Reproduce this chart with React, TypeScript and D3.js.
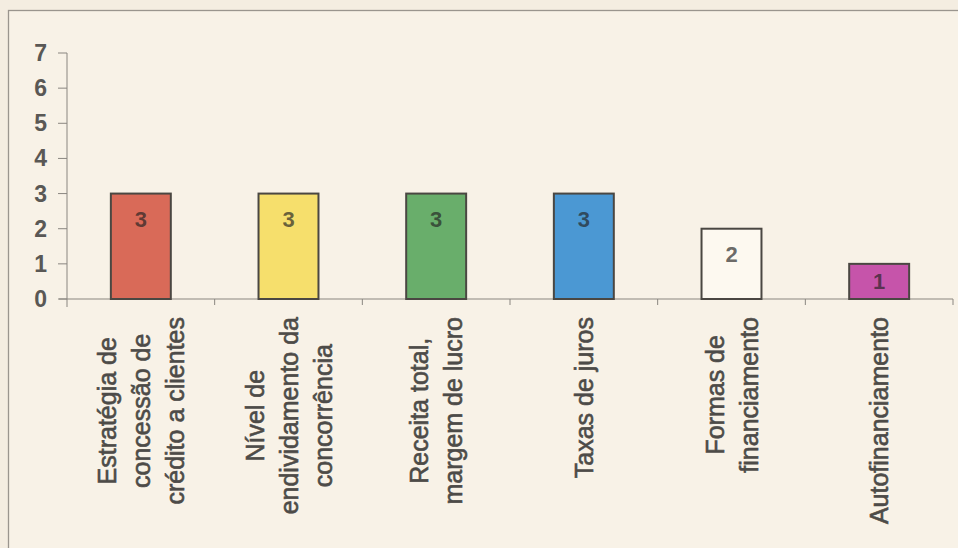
import React from "react";
import * as d3 from "d3";

const categories: string[] = [
  "Estratégia de concessão de crédito a clientes",
  "Nível de endividamento da concorrência",
  "Receita total, margem de lucro",
  "Taxas de juros",
  "Formas de financiamento",
  "Autofinanciamento",
];
const categoryLines: string[][] = [
  ["Estratégia de", "concessão de", "crédito a clientes"],
  ["Nível de", "endividamento da", "concorrência"],
  ["Receita total,", "margem de lucro"],
  ["Taxas de juros"],
  ["Formas de", "financiamento"],
  ["Autofinanciamento"],
];
const values: number[] = [3, 3, 3, 3, 2, 1];
const barColors: string[] = ["#d96a58", "#f6df6c", "#69ae6b", "#4b98d3", "#fdf9f0", "#c654aa"];
const yTicks: number[] = [0, 1, 2, 3, 4, 5, 6, 7];

const W = 958;
const H = 548;
const FONT = "'Liberation Sans', Arial, sans-serif";

function measure(text: string, size: number): number {
  const c = document.createElement("canvas");
  const ctx = c.getContext("2d");
  if (!ctx) return text.length * size * 0.5;
  ctx.font = `${size}px 'Liberation Sans', Arial, sans-serif`;
  return ctx.measureText(text).width;
}

export default function App() {
  const left = 67;
  const right = 953;
  const axisY = 299;
  const topY = 53;

  const x = d3
    .scaleBand<string>()
    .domain(categories)
    .range([left, right])
    .paddingInner(0.594)
    .paddingOuter(0.297);
  const y = d3.scaleLinear().domain([0, 7]).range([axisY, topY]);
  const step = x.step();
  const labelSize = 25;
  const lineGap = 34;

  return (
    <svg
      width={W}
      height={H}
      style={{ position: "absolute", left: 0, top: 0, display: "block" }}
      fontFamily={FONT}
    >
      <rect x={0} y={0} width={W} height={H} fill="#f4ede1" />
      <rect x={8.5} y={10.5} width={W + 10} height={H + 10} fill="#f8f2e7" stroke="#9a958e" strokeWidth={1.3} />

      {/* y axis */}
      <line x1={left} x2={left} y1={topY} y2={axisY + 8} stroke="#8a8680" strokeWidth={1} />
      {yTicks.map((t) => (
        <g key={t}>
          <line x1={left - 9} x2={left} y1={y(t)} y2={y(t)} stroke="#8a8680" strokeWidth={1} />
          <text
            x={47}
            y={y(t)}
            textAnchor="end"
            dominantBaseline="central"
            fontSize={23}
            fontWeight="bold"
            fill="#5a5855"
          >
            {t}
          </text>
        </g>
      ))}

      {/* x axis */}
      <line x1={left - 8} x2={right} y1={axisY} y2={axisY} stroke="#8a8680" strokeWidth={1.2} />
      {categories.map((c, i) => (
        <line
          key={"xt" + i}
          x1={left + (i + 1) * step}
          x2={left + (i + 1) * step}
          y1={axisY}
          y2={axisY + 6}
          stroke="#8a8680"
          strokeWidth={1}
        />
      ))}

      {/* bars */}
      {categories.map((c, i) => {
        const x0 = x(c) as number;
        const top = y(values[i]);
        const h = axisY - top;
        return (
          <g key={"b" + i}>
            <rect
              x={x0}
              y={top}
              width={x.bandwidth()}
              height={h}
              fill={barColors[i]}
              stroke="#4a4742"
              strokeWidth={2}
            />
            <text
              x={x0 + x.bandwidth() / 2}
              y={top + Math.min(26, h / 2)}
              textAnchor="middle"
              dominantBaseline="central"
              fontSize={22}
              fontWeight="bold"
              fill="#222"
              fillOpacity={0.68}
            >
              {values[i]}
            </text>
          </g>
        );
      })}

      {/* category labels */}
      {categories.map((c, i) => {
        const lines = categoryLines[i];
        const cx = (x(c) as number) + x.bandwidth() / 2;
        const maxLen = Math.max(...lines.map((l) => measure(l, labelSize)));
        const cy = axisY + 18 + maxLen / 2;
        return (
          <g key={"l" + i}>
            {lines.map((ln, j) => {
              const lx = cx + (j - (lines.length - 1) / 2) * lineGap;
              return (
                <text
                  key={j}
                  x={0}
                  y={0}
                  transform={`translate(${lx},${cy}) rotate(-90)`}
                  textAnchor="middle"
                  dominantBaseline="central"
                  fontSize={labelSize}
                  fill="#4d4b48"
                  stroke="#4d4b48"
                  strokeWidth={0.6}
                >
                  {ln}
                </text>
              );
            })}
          </g>
        );
      })}
    </svg>
  );
}
